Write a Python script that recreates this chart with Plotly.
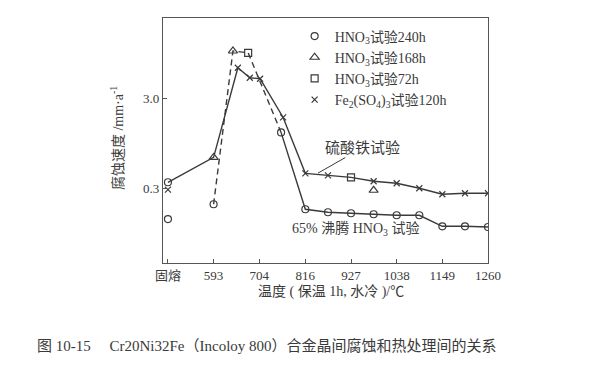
import math
import plotly.graph_objects as go

# ---------------- data ----------------
SOLUTION_X = 482  # position used for the "固熔" (solution-annealed) category
tick_vals = [482, 593, 704, 816, 927, 1038, 1149, 1260]
tick_text = ["固熔", "593", "704", "816", "927", "1038", "1149", "1260"]

# HNO3 240h (circles)
circ_x = [482, 482, 593, 757, 816, 871, 927, 982, 1038, 1093, 1149, 1204, 1260]
circ_y = [0.35, 0.136, 0.199, 1.26, 0.175, 0.162, 0.158, 0.154, 0.150, 0.150, 0.113, 0.113, 0.111]

# HNO3 168h (triangles)
tri_x = [593, 640, 982]
tri_y = [0.663, 10.2, 0.285]

# HNO3 72h (squares)
sq_x = [677, 927]
sq_y = [9.73, 0.397]

# Fe2(SO4)3 120h (crosses)
crs_x = [482, 652, 681, 706, 762, 816, 871, 982, 1038, 1093, 1149, 1204, 1260]
crs_y = [0.29, 6.63, 5.13, 5.0, 1.85, 0.44, 0.418, 0.359, 0.341, 0.30, 0.257, 0.264, 0.264]

# upper solid curve (硫酸铁试验)
upper_x = [482, 593, 652, 681, 706, 762, 816, 871, 927, 982, 1038, 1093, 1149, 1204, 1260]
upper_y = [0.35, 0.663, 6.63, 5.13, 5.0, 1.85, 0.44, 0.418, 0.397, 0.359, 0.341, 0.30, 0.257, 0.264, 0.264]

# dashed curve (short-time HNO3 tests)
dash_x = [593, 640, 677, 757]
dash_y = [0.199, 10.2, 9.73, 1.26]

# lower solid curve (65% 沸腾 HNO3 试验)
lower_x = [757, 816, 871, 927, 982, 1038, 1093, 1149, 1204, 1260]
lower_y = [1.26, 0.175, 0.162, 0.158, 0.154, 0.150, 0.150, 0.113, 0.113, 0.111]

y_ticks = [0.3, 3.0]
y_tick_text = ["0.3", "3.0"]

# ---------------- styles ----------------
INK = "#3a3a3a"
SERIF = "Liberation Serif, Noto Sans CJK SC, serif"
LW = 1.4

fig = go.Figure()

fig.add_trace(go.Scatter(x=upper_x, y=upper_y, mode="lines",
                         line=dict(color=INK, width=LW), showlegend=False, hoverinfo="skip"))
fig.add_trace(go.Scatter(x=dash_x, y=dash_y, mode="lines",
                         line=dict(color=INK, width=LW, dash="6px,4px"), showlegend=False, hoverinfo="skip"))
fig.add_trace(go.Scatter(x=lower_x, y=lower_y, mode="lines",
                         line=dict(color=INK, width=LW), showlegend=False, hoverinfo="skip"))

fig.add_trace(go.Scatter(x=circ_x, y=circ_y, mode="markers", name="HNO<sub>3</sub>试验240h",
                         marker=dict(symbol="circle-open", size=7, color=INK, line=dict(width=1.2))))
fig.add_trace(go.Scatter(x=tri_x, y=tri_y, mode="markers", name="HNO<sub>3</sub>试验168h",
                         marker=dict(symbol="triangle-up-open", size=8, color=INK, line=dict(width=1.2))))
fig.add_trace(go.Scatter(x=sq_x, y=sq_y, mode="markers", name="HNO<sub>3</sub>试验72h",
                         marker=dict(symbol="square-open", size=7, color=INK, line=dict(width=1.2))))
fig.add_trace(go.Scatter(x=crs_x, y=crs_y, mode="markers",
                         name="Fe<sub>2</sub>(SO<sub>4</sub>)<sub>3</sub>试验120h",
                         marker=dict(symbol="x-thin-open", size=6, color=INK, line=dict(width=1.2, color=INK))))

fig.update_layout(
    width=600, height=380,
    margin=dict(l=163, r=112, t=18, b=117),
    paper_bgcolor="white", plot_bgcolor="white",
    font=dict(family=SERIF, size=13, color=INK),
    legend=dict(x=0.405, y=0.99, xanchor="left", yanchor="top",
                bgcolor="rgba(0,0,0,0)", font=dict(family=SERIF, size=14, color=INK),
                itemwidth=30, tracegroupgap=0),
    showlegend=True,
)

fig.update_xaxes(range=[470, 1260], tickvals=tick_vals, ticktext=tick_text,
                 showgrid=False, zeroline=False, showline=True, mirror=True,
                 linecolor="#555", linewidth=1.2, ticks="inside", ticklen=4,
                 tickcolor="#555", tickfont=dict(family=SERIF, size=13, color=INK))
fig.update_yaxes(type="log", range=[math.log10(0.044), math.log10(23.8)],
                 tickvals=y_ticks, ticktext=y_tick_text,
                 showgrid=False, zeroline=False, showline=True, mirror=True,
                 linecolor="#555", linewidth=1.2, ticks="inside", ticklen=4,
                 tickcolor="#555", tickfont=dict(family=SERIF, size=13, color=INK))

# axis titles and labels
fig.add_annotation(text="温度 ( 保温 1h, 水冷 )/℃", xref="paper", yref="paper",
                   x=0.517, y=-0.118, showarrow=False, xanchor="center", yanchor="middle",
                   font=dict(family=SERIF, size=14, color=INK))
fig.add_annotation(text="腐蚀速度 /mm·a<sup>-1</sup>", xref="paper", yref="paper",
                   x=-0.1415, y=0.51, showarrow=False, textangle=-90,
                   xanchor="center", yanchor="middle",
                   font=dict(family=SERIF, size=14, color=INK))
fig.add_annotation(text="硫酸铁试验", xref="paper", yref="paper",
                   x=0.477, y=0.367, ax=44, ay=-25, showarrow=True, arrowhead=0,
                   arrowwidth=1, arrowcolor=INK, standoff=0,
                   font=dict(family=SERIF, size=15, color=INK))
fig.add_annotation(text="65% 沸腾 HNO<sub>3</sub> 试验", xref="paper", yref="paper",
                   x=0.592, y=0.139, showarrow=False, xanchor="center", yanchor="middle",
                   font=dict(family=SERIF, size=14, color=INK))
fig.add_annotation(text="图 10-15　 Cr20Ni32Fe（Incoloy 800）合金晶间腐蚀和热处理间的关系",
                   xref="paper", yref="paper", x=0.32, y=-0.335, showarrow=False,
                   xanchor="center", yanchor="middle",
                   font=dict(family=SERIF, size=15, color=INK))

fig.write_html("out.html", config={"displayModeBar": False},
               post_script="document.body.style.margin='0';")
